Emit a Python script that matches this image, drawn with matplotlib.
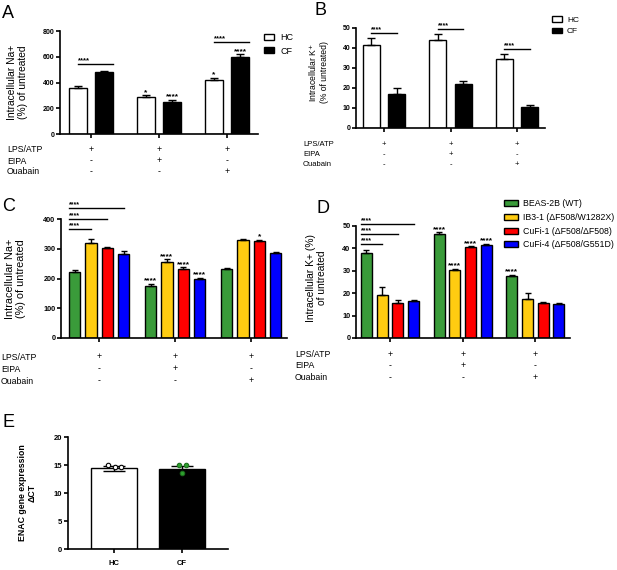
import matplotlib
matplotlib.use('Agg')
import matplotlib.pyplot as plt
from matplotlib.patches import Patch
from matplotlib.transforms import blended_transform_factory as btf
import numpy as np

plt.rcParams['font.family'] = ['Liberation Sans', 'DejaVu Sans']

# ---------------- data ----------------
treat_rows = ['LPS/ATP', 'EIPA', 'Ouabain']
treat_signs = [['+', '+', '+'], ['-', '+', '-'], ['-', '-', '+']]

# Panel A: intracellular Na+ (% of untreated)
a_labels = ['HC', 'CF']
a_hc = [355, 285, 420]
a_hc_err = [20, 15, 15]
a_cf = [478, 250, 600]
a_cf_err = [10, 15, 20]
a_hc_stars = ['', '*', '*']
a_cf_stars = ['', '****', '****']
a_bracket_groups = [0, 2]
a_bracket_y = [544, 715]

# Panel B: intracellular K+ (% of untreated)
b_hc = [41.5, 44.0, 34.3]
b_hc_err = [3.3, 3.0, 2.5]
b_cf = [17.0, 22.0, 10.7]
b_cf_err = [3.0, 1.7, 0.8]
b_bracket_y = [47.5, 49.3, 39.3]

# Panels C, D: cell lines
lines_names = ['BEAS-2B (WT)', 'IB3-1 (ΔF508/W1282X)', 'CuFi-1 (ΔF508/ΔF508)', 'CuFi-4 (ΔF508/G551D)']
lines_colors = ['#3a9b3a', '#ffcc11', '#ff0000', '#0000ff']

c_vals = [[222, 320, 302, 284],
          [175, 256, 232, 200],
          [232, 330, 327, 287]]
c_errs = [[6, 13, 3, 8],
          [8, 9, 5, 3],
          [3, 2, 4, 3]]
c_stars = [['', '', '', ''],
           ['****', '****', '****', '****'],
           ['', '', '*', '']]
c_bracket_y = [366, 400, 437]   # vs IB3-1, CuFi-1, CuFi-4

d_vals = [[37.8, 19.0, 15.6, 16.3],
          [46.5, 30.2, 40.5, 41.5],
          [27.7, 17.5, 15.7, 15.2]]
d_errs = [[1.3, 3.8, 1.5, 0.7],
          [0.7, 0.8, 0.5, 0.5],
          [0.5, 2.5, 0.3, 0.3]]
d_stars = [['', '', '', ''],
           ['****', '****', '****', '****'],
           ['****', '', '', '']]
d_bracket_y = [42.0, 46.4, 51.0]

# Panel E: ENAC gene expression
e_labels = ['HC', 'CF']
e_means = [14.4, 14.25]
e_errs = [0.45, 0.5]
e_points = [[15.0, 14.6, 14.6], [15.0, 15.0, 13.6]]
e_jitter = [[-0.09, 0.015, 0.1], [-0.045, 0.055, 0.005]]

# ---------------- figure ----------------
W, H = 617, 570
fig = plt.figure(figsize=(W / 100, H / 100), dpi=100)


def px_axes(l, t, r, b):
    return fig.add_axes([l / W, 1 - b / H, (r - l) / W, (b - t) / H])


def style(ax, ylim, yticks, xlim, xticks, lab_size=5):
    ax.set_ylim(ylim)
    ax.set_xlim(xlim)
    ax.set_yticks(yticks)
    ax.set_xticks(xticks)
    ax.set_xticklabels([])
    for s in ['top', 'right']:
        ax.spines[s].set_visible(False)
    for s in ['left', 'bottom']:
        ax.spines[s].set_linewidth(1.2)
    ax.tick_params(axis='both', width=1.2, length=3, labelsize=lab_size, pad=1)
    for lbl in ax.get_yticklabels():
        lbl.set_fontweight('bold')


def set_ylabel(ax, text, xpx_off, axw_px, yfrac=0.5, size=7.4, weight='normal'):
    ax.set_ylabel(text, fontsize=size, fontweight=weight, linespacing=1.1)
    ax.yaxis.set_label_coords(xpx_off / axw_px, yfrac)


def rows(ax, xs, label_x_px, ys_px, size):
    tr = btf(ax.transData, fig.transFigure)
    for r, (name, yp) in enumerate(zip(treat_rows, ys_px)):
        fig.text(label_x_px / W, 1 - yp / H, name, fontsize=size, va='center', ha='left')
        for g, x in enumerate(xs):
            ax.text(x, 1 - yp / H, treat_signs[r][g], transform=tr, fontsize=size,
                    ha='center', va='center')


def star(ax, x, y, s, ha='center', dy=1.0, size=6):
    if s:
        ax.annotate(s, xy=(x, y), xytext=(0, dy), textcoords='offset points',
                    ha=ha, va='baseline', fontsize=size, fontweight='bold',
                    annotation_clip=False)


def panel_letter(x, ybase, s):
    fig.text(x / W, 1 - ybase / H, s, fontsize=13, va='baseline', ha='left')


groups = np.arange(3)

# ---------------- Panel A ----------------
axA = px_axes(60, 31, 258, 134)
wA, offA = 0.26, 0.195
axA.bar(groups - offA, a_hc, wA, color='white', edgecolor='black', linewidth=1)
axA.bar(groups + offA, a_cf, wA, color='black', edgecolor='black', linewidth=1)
axA.errorbar(groups - offA, a_hc, yerr=[np.zeros(3), a_hc_err], fmt='none',
             ecolor='black', elinewidth=1, capsize=3, capthick=1)
axA.errorbar(groups + offA, a_cf, yerr=[np.zeros(3), a_cf_err], fmt='none',
             ecolor='black', elinewidth=1, capsize=3, capthick=1)
style(axA, (0, 800), [0, 200, 400, 600, 800], (-(91 - 60) / 68, 2.456), groups)
set_ylabel(axA, 'Intracellular Na+\n(%) of untreated', -32, 198)
for g in range(3):
    star(axA, g - offA, a_hc[g] + a_hc_err[g], a_hc_stars[g])
    star(axA, g + offA, a_cf[g] + a_cf_err[g], a_cf_stars[g])
for g, yb in zip(a_bracket_groups, a_bracket_y):
    x0, x1 = g - offA, g + offA + wA / 2
    axA.plot([x0, x1], [yb, yb], color='black', lw=1, clip_on=False)
    star(axA, x0, yb, '****', ha='left', dy=1.5, size=5.5)
axA.legend(handles=[Patch(facecolor='white', edgecolor='black', lw=1),
                    Patch(facecolor='black', edgecolor='black', lw=1)],
           labels=a_labels, loc='upper left', bbox_to_anchor=(264 / W, 1 - 33 / H),
           bbox_transform=fig.transFigure, frameon=False, fontsize=6.5,
           handlelength=1.1, handleheight=0.6, handletextpad=0.7,
           borderpad=0, borderaxespad=0, labelspacing=0.5)
rows(axA, groups, 7, [150, 161, 171.5], 6.3)
panel_letter(2, 18.5, 'A')

# ---------------- Panel B ----------------
axB = px_axes(356, 28, 545, 128)
wB, offB = 0.256, 0.19
axB.bar(groups - offB, b_hc, wB, color='white', edgecolor='black', linewidth=1)
axB.bar(groups + offB, b_cf, wB, color='black', edgecolor='black', linewidth=1)
axB.errorbar(groups - offB, b_hc, yerr=[np.zeros(3), b_hc_err], fmt='none',
             ecolor='black', elinewidth=1, capsize=3, capthick=1)
axB.errorbar(groups + offB, b_cf, yerr=[np.zeros(3), b_cf_err], fmt='none',
             ecolor='black', elinewidth=1, capsize=3, capthick=1)
style(axB, (0, 50), [0, 10, 20, 30, 40, 50], (-(384 - 356) / 66.5, 2.42), groups, lab_size=5)
set_ylabel(axB, 'Intracellular K$^{+}$\n(% of untreated)', -27, 189, yfrac=0.56, size=6.2)
for g, yb in enumerate(b_bracket_y):
    x0, x1 = g - offB, g + offB
    axB.plot([x0, x1], [yb, yb], color='black', lw=1, clip_on=False)
    star(axB, x0, yb, '****', ha='left', dy=1.5, size=5)
axB.legend(handles=[Patch(facecolor='white', edgecolor='black', lw=1),
                    Patch(facecolor='black', edgecolor='black', lw=1)],
           labels=a_labels, loc='upper left', bbox_to_anchor=(552 / W, 1 - 16.5 / H),
           bbox_transform=fig.transFigure, frameon=False, fontsize=6,
           handlelength=1.2, handleheight=0.6, handletextpad=0.6,
           borderpad=0, borderaxespad=0, labelspacing=0.45)
rows(axB, groups, 303, [144.5, 154.5, 164.5], 5.5)
panel_letter(315, 15, 'B')

# ---------------- Panels C, D ----------------
def cell_panel(ax, vals, errs, stars, step, width, bracket_y, bracket_size):
    vals = np.array(vals)
    errs = np.array(errs)
    for i in range(4):
        xs = groups + (i - 1.5) * step
        ax.bar(xs, vals[:, i], width, color=lines_colors[i], edgecolor='black', linewidth=1)
        ax.errorbar(xs, vals[:, i], yerr=[np.zeros(3), errs[:, i]], fmt='none',
                    ecolor='black', elinewidth=1, capsize=2.2, capthick=1)
        for g in range(3):
            star(ax, xs[g], vals[g, i] + errs[g, i], stars[g][i], dy=1.0, size=6)
    x0 = -1.5 * step - width / 2
    for i, yb in zip([1, 2, 3], bracket_y):
        x1 = (i - 1.5) * step
        ax.plot([x0, x1], [yb, yb], color='black', lw=1, clip_on=False)
        star(ax, x0, yb, '****', ha='left', dy=1.2, size=bracket_size)


axC = px_axes(61, 219, 287, 338)
cell_panel(axC, c_vals, c_errs, c_stars, 0.215, 0.15, c_bracket_y, 5)
style(axC, (0, 400), [0, 100, 200, 300, 400], (-(99 - 61) / 76, 2.47), groups, lab_size=5.2)
set_ylabel(axC, 'Intracellular Na+\n(%) of untreated', -35, 226, size=7.8)
rows(axC, groups, 1, [357, 369, 381], 6.3)
panel_letter(2, 211, 'C')

axD = px_axes(356, 226, 570, 338)
cell_panel(axD, d_vals, d_errs, d_stars, 0.216, 0.151, d_bracket_y, 5)
style(axD, (0, 50), [0, 10, 20, 30, 40, 50], (-(390 - 356) / 72.7, 2.476), groups, lab_size=5.2)
set_ylabel(axD, 'Intracellular K+ (%)\nof untreated', -29, 214, yfrac=0.535, size=7.4)
rows(axD, groups, 295, [354.5, 365.5, 377.5], 6.3)
panel_letter(316, 213, 'D')
axD.legend(handles=[Patch(facecolor=c, edgecolor='black', lw=1) for c in lines_colors],
           labels=lines_names, loc='upper left', bbox_to_anchor=(504 / W, 1 - 199 / H),
           bbox_transform=fig.transFigure, frameon=False, fontsize=6.3,
           handlelength=1.6, handleheight=0.7, handletextpad=0.55,
           borderpad=0, borderaxespad=0, labelspacing=0.55)

# ---------------- Panel E ----------------
axE = px_axes(68, 437, 228, 549)
ex = np.arange(2)
axE.bar(ex, e_means, 0.676, color=['white', 'black'], edgecolor='black', linewidth=1)
axE.errorbar(ex, e_means, yerr=e_errs, fmt='none', ecolor='black', elinewidth=1,
             capsize=8, capthick=1)
pt_face = ['white', '#2ea02e']
pt_edge = ['black', '#1d6e1d']
for g in range(2):
    axE.plot(np.array(e_jitter[g]) + g, e_points[g], 'o', ms=3.2, mfc=pt_face[g],
             mec=pt_edge[g], mew=0.8, zorder=5, clip_on=False)
style(axE, (0, 20), [0, 5, 10, 15, 20], (-0.676, 1.676), ex, lab_size=5.5)
axE.set_xticklabels(e_labels, fontsize=5.5, fontweight='bold')
axE.tick_params(axis='x', pad=5)
set_ylabel(axE, 'ENAC gene expression\nΔCT', -31.5, 160, size=6.3, weight='bold')
panel_letter(2, 427, 'E')

fig.savefig('out.png', dpi=100)
